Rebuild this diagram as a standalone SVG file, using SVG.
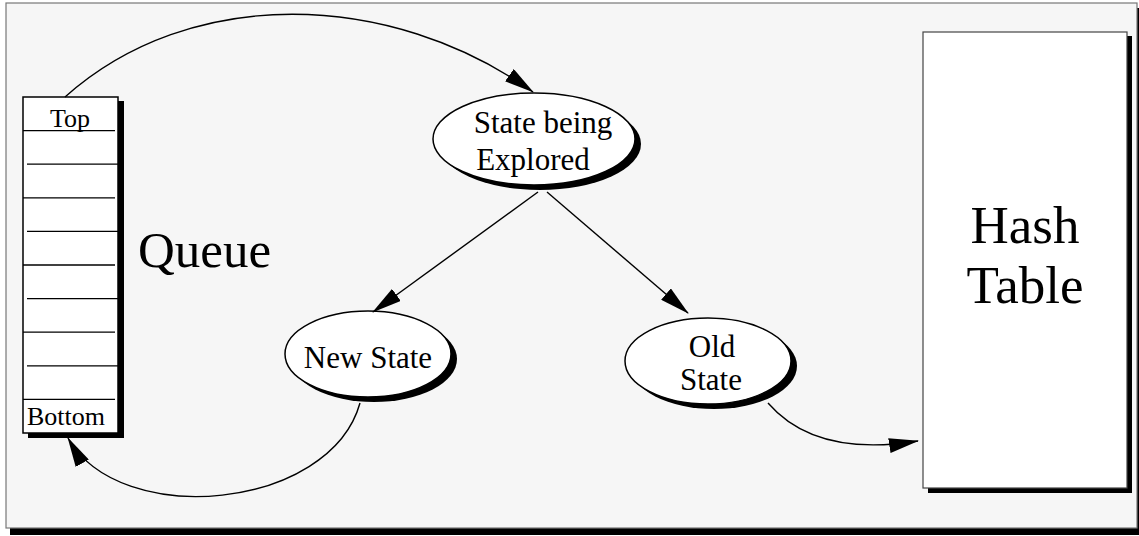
<svg xmlns="http://www.w3.org/2000/svg" width="1139" height="536" viewBox="0 0 1139 536">
  <style>
    text { font-family: "Liberation Serif", "Times New Roman", serif; fill: #000; }
    .shadow { fill: #000; }
    .box { fill: #fff; stroke: #000; stroke-width: 1.5; }
    .node { fill: #fff; stroke: #000; stroke-width: 1.5; }
    .row { stroke: #000; stroke-width: 1.3; }
    .edge { fill: none; stroke: #000; stroke-width: 1.4; }
  </style>
  <defs>
    <marker id="arrow" viewBox="0 0 30 15" refX="29" refY="7.5" markerWidth="30" markerHeight="15" markerUnits="userSpaceOnUse" orient="auto">
      <path d="M0,0 L30,7.5 L0,15 z" fill="#000"/>
    </marker>
  </defs>

  <!-- page frame with drop shadow -->
  <g id="frame">
    <rect x="10" y="8" width="1131" height="527" class="shadow"/>
    <rect x="6" y="3" width="1131" height="525" fill="#f6f6f6" stroke="#777" stroke-width="1.2"/>
  </g>

  <!-- queue of pending states -->
  <g id="queue">
    <rect x="28" y="101" width="96" height="337" class="shadow"/>
    <rect x="23" y="97" width="95" height="336" class="box"/>
    <line x1="23" y1="130.6" x2="115" y2="130.6" class="row"/>
    <line x1="27" y1="164.2" x2="118" y2="164.2" class="row"/>
    <line x1="23" y1="197.8" x2="115" y2="197.8" class="row"/>
    <line x1="27" y1="231.4" x2="118" y2="231.4" class="row"/>
    <line x1="23" y1="265" x2="115" y2="265" class="row"/>
    <line x1="27" y1="298.6" x2="118" y2="298.6" class="row"/>
    <line x1="23" y1="332.2" x2="115" y2="332.2" class="row"/>
    <line x1="27" y1="365.8" x2="118" y2="365.8" class="row"/>
    <line x1="23" y1="399.4" x2="115" y2="399.4" class="row"/>
    <text x="70" y="127" font-size="26" text-anchor="middle">Top</text>
    <text x="27" y="425" font-size="26">Bottom</text>
  </g>

  <g id="queue-label">
    <text x="138" y="267" font-size="51">Queue</text>
  </g>

  <!-- state currently being explored -->
  <g id="explored">
    <ellipse cx="540" cy="144" rx="101" ry="46" class="shadow"/>
    <ellipse cx="534" cy="139" rx="101" ry="46" class="node"/>
    <text x="543" y="133" font-size="31" text-anchor="middle">State being</text>
    <text x="533" y="170" font-size="31" text-anchor="middle">Explored</text>
  </g>

  <g id="new-state">
    <ellipse cx="374" cy="359" rx="83" ry="43" class="shadow"/>
    <ellipse cx="368" cy="354" rx="83" ry="43" class="node"/>
    <text x="368" y="368" font-size="31" text-anchor="middle">New State</text>
  </g>

  <g id="old-state">
    <ellipse cx="714" cy="366" rx="83" ry="43" class="shadow"/>
    <ellipse cx="708" cy="361" rx="83" ry="43" class="node"/>
    <text x="712" y="357" font-size="31" text-anchor="middle">Old</text>
    <text x="711" y="390" font-size="31" text-anchor="middle">State</text>
  </g>

  <!-- hash table of visited states -->
  <g id="hash-table">
    <rect x="928" y="36" width="204" height="457" class="shadow"/>
    <rect x="923" y="32" width="204" height="456" fill="#fff" stroke="#444" stroke-width="1.2"/>
    <text x="1025" y="243" font-size="53" text-anchor="middle">Hash</text>
    <text x="1025" y="303" font-size="53" text-anchor="middle">Table</text>
  </g>

  <g id="connectors">
    <path d="M65,97 C190,-15 390,-10 533,92" class="edge" marker-end="url(#arrow)"/>
    <path d="M538,192 L373,312" class="edge" marker-end="url(#arrow)"/>
    <path d="M547,192 L688,313" class="edge" marker-end="url(#arrow)"/>
    <path d="M360,403 C330,510 120,530 68,438" class="edge" marker-end="url(#arrow)"/>
    <path d="M768,403 C800,440 850,452 918,441" class="edge" marker-end="url(#arrow)"/>
  </g>
</svg>
